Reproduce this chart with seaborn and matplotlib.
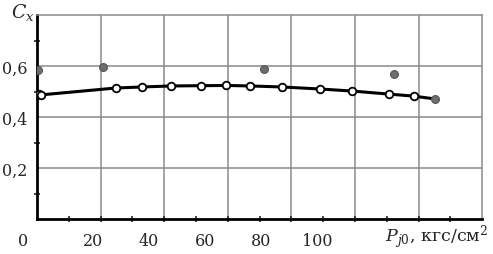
import numpy as np
import pandas as pd
import matplotlib
matplotlib.use("Agg")
import matplotlib.pyplot as plt
import matplotlib.transforms as mtransforms
import seaborn as sns

# measured points (x in kgf/cm2, Cx)
p_line = [0.7, 1.4, 28.2, 37.5, 47.9, 58.6, 67.5, 76.1, 87.5, 101.1, 112.5, 125.7, 134.6]
cx_line = [0.490, 0.487, 0.514, 0.518, 0.522, 0.523, 0.524, 0.522, 0.518, 0.510, 0.502, 0.490, 0.482]
p_gray = [0.4, 23.6, 81.1, 127.5, 142.1]
cx_gray = [0.584, 0.596, 0.588, 0.569, 0.471]

x_ticks = [0, 20, 40, 60, 80, 100]
x_labels = ["0", "20", "40", "60", "80", "100"]
y_ticks = [0.2, 0.4, 0.6]
y_labels = ["0,2", "0,4", "0,6"]

sns.set_style("white")
plt.rcParams['font.family'] = ['DejaVu Serif']
plt.rcParams['mathtext.fontset'] = 'dejavuserif'

xmax = 158.9
gx = xmax / 7
fs = 11.5

fig = plt.figure(figsize=(4.93, 2.55), dpi=100)
ax = fig.add_axes([0.075, 0.137, 0.903, 0.8])

# grid
for i in range(1, 7):
    ax.axvline(gx * i, color='#8a8a8a', lw=1.1, zorder=0)
for v in y_ticks:
    ax.axhline(v, color='#8a8a8a', lw=1.1, zorder=0)

df_line = pd.DataFrame({'p': p_line + [p_gray[-1]], 'cx': cx_line + [cx_gray[-1]]})
sns.lineplot(data=df_line, x='p', y='cx', color='black', lw=2.2, ax=ax, zorder=2, sort=True)
sns.scatterplot(x=p_line, y=cx_line, s=30, facecolor='white', edgecolor='black',
                linewidth=1.3, ax=ax, zorder=3)
sns.scatterplot(x=p_gray, y=cx_gray, s=32, color='#6e6e6e', edgecolor='#555555',
                linewidth=0.8, ax=ax, zorder=3)

ax.set_xlim(0, xmax)
ax.set_ylim(0, 0.8)

ax.set_xticks(x_ticks, x_labels)
ax.set_yticks(y_ticks, y_labels)
ax.set_xticks([gx * i / 2 for i in range(1, 14)], minor=True)
ax.set_yticks([0.1, 0.3, 0.5, 0.7], minor=True)
ax.tick_params(axis='x', which='major', length=0, pad=9, labelsize=fs)
ax.tick_params(axis='y', which='major', length=3, direction='out', pad=4, labelsize=fs)
ax.tick_params(which='minor', length=5, width=1.2, direction='inout')
ax.tick_params(axis='both', which='minor', bottom=True, left=True)

# shift the "0" label left of the axis
lbl0 = ax.get_xticklabels()[0]
lbl0.set_transform(lbl0.get_transform() + mtransforms.ScaledTranslation(-0.14, 0, fig.dpi_scale_trans))

for side in ['left', 'bottom']:
    ax.spines[side].set_color('black')
    ax.spines[side].set_linewidth(2)
for side in ['top', 'right']:
    ax.spines[side].set_color('#8a8a8a')
    ax.spines[side].set_linewidth(1.1)

ax.set_xlabel('')
ax.set_ylabel('')
fig.text(0.78, 0.07, r'$P_{j0}$, кгс/см$^2$', fontsize=12.6, va='center', ha='left')
fig.text(0.022, 0.95, r'$C_x$', fontsize=13.5, va='center', ha='left')

fig.savefig('out.png', dpi=100)
